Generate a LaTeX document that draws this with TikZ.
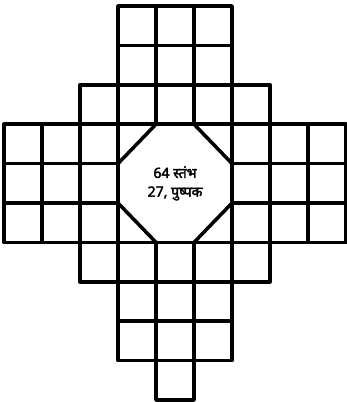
\documentclass[tikz,border=0pt]{standalone}
\usepackage{fontspec}
\newfontfamily\devfont[Script=Devanagari,FakeBold=2.5]{Noto Sans}
\begin{document}
\begin{tikzpicture}[
        x=1.14cm, y=-1.182cm,
        cell/.style={draw, line width=3pt, line join=round},
        hall/.style={
            align=center,
            font=\devfont\fontsize{12}{16}\selectfont
        }
    ]
        \useasboundingbox (-0.105,-0.152) rectangle (9.0,10.05);

        % upper arm
        \foreach \r in {0,1}
            \foreach \c in {3,4,5}
                \draw[cell] (\c,\r) rectangle ++(1,1);
        \foreach \c in {2,...,6}
            \draw[cell] (\c,2) rectangle ++(1,1);

        % side wings
        \foreach \r in {3,4,5}
            \foreach \c in {0,1,2,6,7,8}
                \draw[cell] (\c,\r) rectangle ++(1,1);

        % lower arm
        \foreach \c in {2,...,6}
            \draw[cell] (\c,6) rectangle ++(1,1);
        \foreach \r in {7,8}
            \foreach \c in {3,4,5}
                \draw[cell] (\c,\r) rectangle ++(1,1);
        \draw[cell] (4,9) rectangle ++(1,1);

        % central octagon
        \draw[cell] (3,3) rectangle (6,6);
        \draw[cell] (3,4) -- (4,3) (5,3) -- (6,4) (6,5) -- (5,6) (4,6) -- (3,5);

        \node[hall] (hall) at (4.5,4.5) {64 स्तंभ\\27, पुष्पक};
    \end{tikzpicture}
\end{document}
